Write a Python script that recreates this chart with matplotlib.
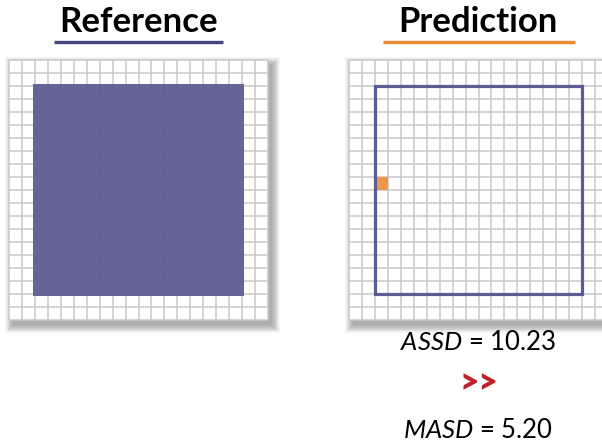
import matplotlib
matplotlib.use('Agg')
import matplotlib.pyplot as plt
from matplotlib.patches import Rectangle

plt.rcParams['font.family'] = ['Lato', 'DejaVu Sans']
plt.rcParams['mathtext.fontset'] = 'custom'
plt.rcParams['mathtext.rm'] = 'Lato'
plt.rcParams['mathtext.it'] = 'Lato:italic'

# diagram data (grid cell units)
grid_n = 20
titles = ['Reference', 'Prediction']
ref_square = [1.85, 18.15]          # filled segmentation, start / end
pred_box = [2, 18]                  # outlined segmentation, start / end
pred_extra_cells = [(2, 9)]         # stray predicted voxels (col, row)
metric_names = ['ASSD', 'MASD']
metric_values = [10.23, 5.20]

W, H = 602, 447
fig = plt.figure(figsize=(W / 100, H / 100), dpi=100)
fig.patch.set_facecolor('white')

# background overlay in pixel coordinates
bg = fig.add_axes([0, 0, 1, 1], zorder=0)
bg.set_xlim(0, W)
bg.set_ylim(H, 0)
bg.axis('off')

grid_px = [(9, 60), (349, 60)]
gw, gh = 259, 260
title_x = [139, 478]
line_cols = ['#444682', '#ee8a30']
line_spans = [(54, 223), (383, 575)]

for (x0, y0), tx, col, (lx0, lx1), title in zip(grid_px, title_x, line_cols, line_spans, titles):
    # soft shadow
    for r in range(10):
        bg.add_patch(Rectangle((x0 + 4 - r * 0.9, y0 + 5 - r * 0.9), gw + 1.8 * r, gh + 1.8 * r,
                               fc='black', ec='none', alpha=0.035))
    bg.text(tx, 22, title, ha='center', va='center', fontsize=25, fontweight='bold', color='black')
    bg.plot([lx0, lx1], [42, 42], color=col, lw=2.4, solid_capstyle='butt')

grid_axes = []
for x0, y0 in grid_px:
    ax = fig.add_axes([x0 / W, (H - y0 - gh) / H, gw / W, gh / H], zorder=1)
    ax.set_facecolor('white')
    ax.set_xlim(0, grid_n)
    ax.set_ylim(grid_n, 0)
    ax.set_xticks([])
    ax.set_yticks([])
    for s in ax.spines.values():
        s.set_visible(False)
    ax.vlines(range(grid_n + 1), 0, grid_n, color='#c9c9c9', lw=1.1, clip_on=False, zorder=1)
    ax.hlines(range(grid_n + 1), 0, grid_n, color='#c9c9c9', lw=1.1, clip_on=False, zorder=1)
    grid_axes.append(ax)

ax_ref, ax_pred = grid_axes
a, b = ref_square
ax_ref.add_patch(Rectangle((a, a), b - a, b - a, fc='#5d5d92', ec='none', alpha=0.95, zorder=2))

for cx, cy in pred_extra_cells:
    ax_pred.add_patch(Rectangle((cx, cy), 1, 1, fc='#f0964b', ec='none', zorder=2))
a, b = pred_box
ax_pred.add_patch(Rectangle((a, a), b - a, b - a, fill=False, ec='#5b5b94', lw=2.3, zorder=3))

# metrics
bg.text(478, 343, r'$%s$ = %.2f' % (metric_names[0], metric_values[0]),
        ha='center', va='center', fontsize=18.5, color='black')
bg.text(479, 383, '>>', ha='center', va='center', fontsize=24, fontweight='heavy', color='#c0202a')
bg.text(478, 431, r'$%s$ = %.2f' % (metric_names[1], metric_values[1]),
        ha='center', va='center', fontsize=18.5, color='black')

fig.savefig('out.png', dpi=100, facecolor='white')
